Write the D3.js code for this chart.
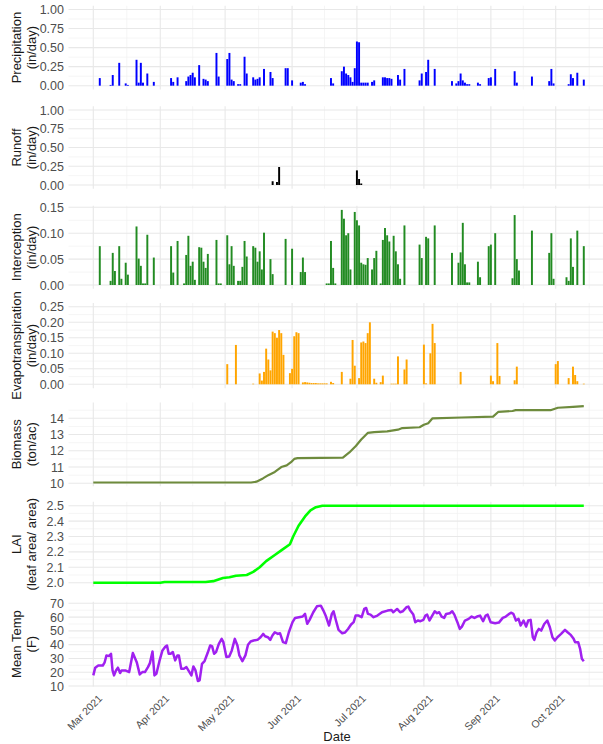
<!DOCTYPE html>
<html>
<head>
<meta charset="utf-8">
<script src="https://cdn.jsdelivr.net/npm/d3@7"></script>
<style>
  body { margin: 0; background: #fff; }
  text { font-family: "Liberation Sans", Arial, sans-serif; }
</style>
</head>
<body>
<div id="chart"></div>
<script>
// days counted from 2021-03-01
var precipDays = [3, 8, 9, 12, 15, 16, 20, 21, 22, 23, 25, 28, 36, 37, 39, 43, 44, 45, 46, 47, 49, 51, 52, 53, 57, 58, 62, 63, 64, 65, 67, 68, 70, 71, 74, 75, 76, 77, 79, 82, 83, 89, 90, 92, 96, 97, 98, 110, 111, 115, 116, 117, 118, 119, 120, 121, 122, 123, 124, 125, 126, 127, 129, 130, 134, 135, 136, 137, 138, 141, 142, 144, 151, 152, 154, 155, 158, 166, 168, 169, 170, 171, 172, 173, 174, 178, 179, 183, 184, 186, 195, 196, 203, 211, 212, 213, 220, 221, 222, 224, 227];
var precipVals = [0.10, 0.01, 0.14, 0.30, 0.03, 0.01, 0.34, 0.04, 0.30, 0.04, 0.16, 0.05, 0.10, 0.05, 0.11, 0.06, 0.12, 0.14, 0.17, 0.11, 0.27, 0.09, 0.08, 0.06, 0.43, 0.12, 0.35, 0.43, 0.08, 0.06, 0.02, 0.02, 0.38, 0.16, 0.11, 0.08, 0.09, 0.11, 0.22, 0.18, 0.10, 0.23, 0.23, 0.07, 0.04, 0.05, 0.02, 0.10, 0.03, 0.19, 0.25, 0.16, 0.14, 0.11, 0.05, 0.23, 0.58, 0.57, 0.04, 0.04, 0.04, 0.04, 0.05, 0.07, 0.11, 0.11, 0.10, 0.10, 0.09, 0.14, 0.08, 0.22, 0.07, 0.16, 0.18, 0.34, 0.22, 0.06, 0.03, 0.06, 0.16, 0.07, 0.04, 0.02, 0.02, 0.04, 0.02, 0.10, 0.11, 0.22, 0.19, 0.04, 0.12, 0.06, 0.22, 0.03, 0.02, 0.15, 0.10, 0.17, 0.08];

var runoffDays = [83, 85, 86, 122, 123, 124];
var runoffVals = [0.05, 0.04, 0.24, 0.195, 0.08, 0.02];

var interceptDays = [3, 8, 9, 10, 12, 13, 15, 16, 20, 21, 22, 23, 24, 25, 28, 36, 37, 39, 42, 43, 44, 45, 46, 47, 49, 50, 51, 52, 53, 57, 58, 59, 62, 63, 64, 65, 67, 68, 69, 70, 71, 74, 75, 76, 77, 78, 79, 82, 83, 89, 92, 96, 97, 98, 108, 109, 110, 111, 112, 115, 116, 117, 118, 119, 121, 122, 123, 124, 125, 126, 127, 129, 130, 131, 133, 134, 135, 136, 137, 139, 140, 141, 142, 144, 151, 152, 154, 155, 158, 166, 169, 170, 171, 172, 173, 174, 178, 179, 183, 184, 186, 194, 195, 196, 197, 203, 211, 212, 213, 219, 220, 221, 222, 224, 227];
var interceptVals = [0.075, 0.008, 0.062, 0.027, 0.075, 0.012, 0.043, 0.02, 0.113, 0.051, 0.037, 0.003, 0.003, 0.097, 0.053, 0.075, 0.024, 0.085, 0.003, 0.058, 0.095, 0.037, 0.045, 0.01, 0.073, 0.072, 0.045, 0.033, 0.06, 0.087, 0.003, 0.003, 0.096, 0.04, 0.075, 0.037, 0.008, 0.008, 0.035, 0.085, 0.055, 0.075, 0.072, 0.045, 0.065, 0.03, 0.101, 0.05, 0.021, 0.089, 0.07, 0.025, 0.053, 0.025, 0.003, 0.003, 0.085, 0.033, 0.003, 0.145, 0.128, 0.096, 0.1, 0.03, 0.141, 0.125, 0.115, 0.043, 0.04, 0.039, 0.052, 0.03, 0.052, 0.066, 0.003, 0.087, 0.11, 0.096, 0.084, 0.095, 0.065, 0.04, 0.012, 0.115, 0.078, 0.052, 0.093, 0.09, 0.115, 0.062, 0.043, 0.063, 0.12, 0.04, 0.005, 0.005, 0.045, 0.015, 0.075, 0.078, 0.1, 0.013, 0.135, 0.05, 0.028, 0.105, 0.062, 0.1, 0.012, 0.015, 0.008, 0.09, 0.035, 0.105, 0.075];

var etDays = [62, 66, 74, 77, 78, 79, 80, 81, 82, 83, 84, 85, 86, 87, 88, 91, 92, 93, 94, 95, 97, 98, 99, 100, 101, 102, 103, 104, 105, 106, 107, 108, 110, 111, 115, 119, 120, 121, 123, 124, 125, 126, 127, 128, 130, 131, 133, 134, 138, 139, 140, 141, 144, 145, 153, 154, 156, 157, 158, 170, 184, 185, 187, 188, 195, 196, 214, 215, 220, 222, 223, 224, 227];
var etVals = [0.065, 0.127, 0.002, 0.035, 0.012, 0.04, 0.115, 0.08, 0.045, 0.17, 0.165, 0.15, 0.175, 0.165, 0.095, 0.036, 0.05, 0.155, 0.168, 0.165, 0.006, 0.007, 0.006, 0.005, 0.004, 0.004, 0.004, 0.003, 0.003, 0.003, 0.003, 0.003, 0.008, 0.004, 0.04, 0.018, 0.143, 0.06, 0.02, 0.135, 0.138, 0.133, 0.165, 0.2, 0.018, 0.005, 0.007, 0.028, 0.002, 0.002, 0.002, 0.09, 0.048, 0.08, 0.128, 0.003, 0.1, 0.195, 0.133, 0.04, 0.028, 0.01, 0.133, 0.027, 0.013, 0.057, 0.065, 0.075, 0.02, 0.057, 0.03, 0.01, 0.002];

var biomassDays = [0, 73, 75.5, 78.5, 81, 84, 87, 89.5, 91.5, 93, 94.5, 115.5, 118.5, 121.5, 124, 127, 130, 136, 141, 143, 151, 153, 155, 157, 170.5, 185, 187.5, 194, 195.5, 211.6, 215, 222, 227];
var biomassVals = [10.05, 10.05, 10.1, 10.3, 10.5, 10.7, 11.0, 11.1, 11.3, 11.5, 11.55, 11.58, 11.9, 12.3, 12.7, 13.1, 13.15, 13.2, 13.3, 13.4, 13.45, 13.6, 13.7, 14.0, 14.05, 14.1, 14.4, 14.45, 14.5, 14.5, 14.65, 14.7, 14.75];

var laiDays = [0, 31, 33, 52, 55.5, 60, 63, 66, 71, 74, 77, 80, 84, 87, 91, 92.5, 95, 98, 100.5, 103, 106, 227];
var laiVals = [2.0, 2.0, 2.005, 2.005, 2.01, 2.03, 2.035, 2.045, 2.05, 2.07, 2.1, 2.14, 2.18, 2.21, 2.25, 2.3, 2.37, 2.43, 2.47, 2.49, 2.5, 2.5];

var tempDays = [0, 0.9, 2.3, 4.4, 5.2, 6.1, 7.3, 8.2, 8.9, 9.6, 10.5, 11.4, 12.4, 13.1, 14.8, 16.6, 18.3, 20.1, 21.5, 22.7, 23.9, 25.3, 26.2, 27.4, 28.3, 29.2, 30.6, 32, 33.4, 34.1, 34.9, 35.8, 36.8, 37.9, 38.9, 39.6, 40.7, 41.9, 43.1, 44.5, 45.4, 46.3, 47.3, 48.4, 49.2, 50.3, 51.5, 52.9, 54.1, 55, 55.9, 56.8, 58.1, 59.4, 60.2, 61.6, 62.9, 64.1, 65.5, 66.7, 67.6, 69, 70.4, 71.6, 72.8, 74.2, 76, 77.4, 78.6, 79.5, 80.8, 81.9, 82.9, 84, 85.4, 86.4, 87.8, 89.1, 90.5, 92.2, 93.4, 95.2, 96.9, 98, 99, 100.1, 101.8, 103.5, 105.3, 106.5, 107.7, 109.1, 110.4, 111.2, 112.3, 113.5, 115.2, 116.5, 117.9, 119.3, 120.5, 121.4, 122.8, 124.2, 125.4, 126.3, 127.1, 128.3, 129.7, 131.5, 133.6, 136.2, 138, 138.8, 139.7, 140.6, 142, 143.2, 144.9, 145.8, 146.7, 148.1, 149, 150.2, 151.4, 152.8, 153.7, 154.5, 155.6, 156.6, 158, 159.1, 160.1, 161.2, 162.4, 163.3, 165, 166.1, 167.1, 168.5, 169.6, 170.6, 172, 173.7, 175.1, 176.4, 177.6, 179, 180.4, 181.6, 182.5, 183.9, 186, 187.7, 189.5, 190.9, 192.1, 193.3, 194.4, 195.6, 196.8, 197.8, 199.1, 200.3, 201.3, 202.4, 203.4, 204.1, 205.2, 206.2, 207.3, 208.7, 210.1, 211.3, 212.5, 213.6, 214.8, 216.5, 218.3, 219.5, 220.8, 222.3, 223, 224.4, 225.3, 226.1, 227];
var tempVals = [17.7, 23.3, 24.9, 24.9, 26.9, 32.2, 31.7, 33.4, 21.3, 17.7, 21.3, 23.3, 19.4, 21.3, 21.3, 20.1, 33.9, 27.3, 18.4, 20.1, 20.1, 23.7, 26.6, 35.1, 17.7, 18.9, 28, 35.8, 38.7, 39.4, 33.4, 33.4, 34.6, 28.6, 32.2, 32.2, 22.5, 22.5, 23.7, 20.1, 17.7, 24.2, 21.3, 13.6, 14.1, 26.1, 28.1, 33.9, 39.4, 38.7, 33.4, 34.6, 40.6, 44.2, 41.8, 31, 31.4, 35.8, 44.2, 39.4, 32.2, 28, 32.2, 39.9, 42.3, 43, 43.5, 45.4, 47.8, 46.1, 45.4, 43.5, 46.6, 49, 47.8, 48.3, 41.8, 41.1, 49, 56.3, 59.4, 59.9, 60.4, 62.3, 55.1, 58, 63.5, 67.8, 68.3, 64.7, 60.4, 53.9, 62.3, 64.2, 57.5, 50.7, 48.3, 48.8, 51.4, 54.6, 56.3, 61.1, 61.1, 59.9, 65.9, 66.6, 62.3, 61.8, 59.9, 61.1, 63.5, 64.7, 65.2, 63.5, 64.7, 65.9, 63.5, 64.2, 67.1, 67.6, 64.7, 61.8, 56.3, 57.5, 57, 58, 61.1, 61.8, 57.5, 60.4, 64.2, 62.8, 63.5, 60.4, 59.4, 62.3, 62.8, 64.2, 61.8, 56.3, 51.4, 53.1, 57.5, 58.7, 60.4, 59.4, 60.4, 61.1, 57, 61.1, 61.8, 56.3, 55.5, 56, 59.4, 60.4, 61.8, 63.2, 62.3, 57.5, 58.7, 53.9, 57.5, 53.1, 57.5, 58, 45.4, 43.5, 49, 51.4, 50.2, 55, 57.5, 52.6, 45.4, 43, 45.4, 47.8, 50.7, 49, 47.3, 44.2, 41.8, 41.8, 37, 29.8, 28];

var monthTicks = ["2021-03-01", "2021-04-01", "2021-05-01", "2021-06-01", "2021-07-01", "2021-08-01", "2021-09-01", "2021-10-01"];

var start = new Date(Date.UTC(2021, 2, 1));
function toDate(d) { return new Date(start.getTime() + d * 864e5); }
function pairs(days, vals) { return days.map(function (d, i) { return { date: toDate(d), day: d, value: vals[i] }; }); }

var width = 603, height = 744,
    left = 68.5, right = 603;

var svg = d3.select("#chart").append("svg")
    .attr("width", width)
    .attr("height", height)
    .style("display", "block");

svg.append("rect").attr("width", width).attr("height", height).attr("fill", "#fff");

var x = d3.scaleUtc()
    .domain([new Date(monthTicks[0]), new Date(monthTicks[7])])
    .range([93.3, 555.7]);

var majorX = monthTicks.map(function (s) { return new Date(s); });
var minorX = [];
for (var i = 0; i < majorX.length; i++) {
    var a = majorX[i], b = i < majorX.length - 1 ? majorX[i + 1] : new Date("2021-11-01");
    minorX.push(new Date((a.getTime() + b.getTime()) / 2));
}

var panels = [
    { type: "bar", data: pairs(precipDays, precipVals), color: "#0000ff", title: ["Precipitation", "(in/day)"],
      ticks: [0, 0.25, 0.5, 0.75, 1], fmt: d3.format(".2f"), tpx: [85.7, 9.5], lim: [-0.05, 1.05] },
    { type: "bar", data: pairs(runoffDays, runoffVals), color: "#000000", title: ["Runoff", "(in/day)"],
      ticks: [0, 0.25, 0.5, 0.75, 1], fmt: d3.format(".2f"), tpx: [185, 110], lim: [-0.05, 1.05] },
    { type: "bar", data: pairs(interceptDays, interceptVals), color: "#228b22", title: ["Interception", "(in/day)"],
      ticks: [0, 0.05, 0.1, 0.15], fmt: d3.format(".2f"), tpx: [285, 207.3], lim: [-0.0073, 0.153] },
    { type: "bar", data: pairs(etDays, etVals), color: "#ffa500", title: ["Evapotranspiration", "(in/day)"],
      ticks: [0, 0.05, 0.1, 0.15, 0.2, 0.25], fmt: d3.format(".2f"), tpx: [384.3, 306.8], lim: [-0.0125, 0.2625] },
    { type: "line", data: pairs(biomassDays, biomassVals), color: "#6e8b3d", width: 2.2, title: ["Biomass", "(ton/ac)"],
      ticks: [10, 11, 12, 13, 14], fmt: d3.format("d"), tpx: [483.3, 418.3], lim: [9.82, 14.98] },
    { type: "line", data: pairs(laiDays, laiVals), color: "#00ff00", width: 2.6, title: ["LAI", "(leaf area/ area)"],
      ticks: [2.0, 2.1, 2.2, 2.3, 2.4, 2.5], fmt: d3.format(".1f"), tpx: [582.7, 505.7], lim: [1.975, 2.525] },
    { type: "line", data: pairs(tempDays, tempVals), color: "#a020f0", width: 2.5, title: ["Mean Temp", "(F)"],
      ticks: [10, 20, 30, 40, 50, 60, 70], fmt: d3.format("d"), tpx: [686, 603.3], lim: [9.7, 71.1] }
];

panels.forEach(function (p) {
    var t = p.ticks;
    var y = d3.scaleLinear().domain([t[0], t[t.length - 1]]).range(p.tpx);
    var top = y(p.lim[1]), bottom = y(p.lim[0]);
    var g = svg.append("g");

    // minor + major horizontal grid
    var step = t[1] - t[0];
    var minorY = [];
    for (var v = t[0] - step / 2; v <= p.lim[1]; v += step) {
        if (v >= p.lim[0]) minorY.push(v);
    }
    g.selectAll(".hmin").data(minorY).join("line")
        .attr("x1", left).attr("x2", right)
        .attr("y1", function (d) { return y(d); }).attr("y2", function (d) { return y(d); })
        .attr("stroke", "#f0f0f0").attr("stroke-width", 0.7);
    g.selectAll(".vmin").data(minorX.filter(function (d) { return x(d) > left && x(d) < right; })).join("line")
        .attr("x1", function (d) { return x(d); }).attr("x2", function (d) { return x(d); })
        .attr("y1", top).attr("y2", bottom)
        .attr("stroke", "#f0f0f0").attr("stroke-width", 0.7);
    g.selectAll(".hmaj").data(t).join("line")
        .attr("x1", left).attr("x2", right)
        .attr("y1", function (d) { return y(d); }).attr("y2", function (d) { return y(d); })
        .attr("stroke", "#e8e8e8").attr("stroke-width", 1.1);
    g.selectAll(".vmaj").data(majorX).join("line")
        .attr("x1", function (d) { return x(d); }).attr("x2", function (d) { return x(d); })
        .attr("y1", top).attr("y2", bottom)
        .attr("stroke", "#e8e8e8").attr("stroke-width", 1.1);

    // tick labels
    g.selectAll(".tl").data(t).join("text")
        .attr("x", 64).attr("y", function (d) { return y(d); })
        .attr("dy", "0.36em")
        .attr("text-anchor", "end")
        .attr("font-size", "12.5px")
        .attr("fill", "#4d4d4d")
        .text(p.fmt);

    // axis title
    var cy = (top + bottom) / 2;
    var tt = g.append("text")
        .attr("transform", "translate(20.5," + cy + ") rotate(-90)")
        .attr("text-anchor", "middle")
        .attr("font-size", "13px")
        .attr("fill", "#1a1a1a");
    tt.append("tspan").attr("x", 0).attr("y", 0).text(p.title[0]);
    tt.append("tspan").attr("x", 0).attr("y", 15).text(p.title[1]);

    if (p.type === "bar") {
        var bw = x(toDate(0.9)) - x(toDate(0));
        g.selectAll(".bar").data(p.data).join("rect")
            .attr("x", function (d) { return x(d.date) - bw / 2; })
            .attr("width", bw)
            .attr("y", function (d) { return y(d.value); })
            .attr("height", function (d) { return y(0) - y(d.value); })
            .attr("fill", p.color);
    } else {
        var line = d3.line()
            .x(function (d) { return x(d.date); })
            .y(function (d) { return y(d.value); });
        g.append("path").datum(p.data)
            .attr("d", line)
            .attr("fill", "none")
            .attr("stroke", p.color)
            .attr("stroke-width", p.width)
            .attr("stroke-linejoin", "round");
    }
});

// x tick labels
svg.selectAll(".xl").data(majorX).join("text")
    .attr("transform", function (d) { return "translate(" + (x(d) + 4.5) + ",694) rotate(-45)"; })
    .attr("text-anchor", "end")
    .attr("dy", "0.7em")
    .attr("font-size", "10.5px")
    .attr("fill", "#4d4d4d")
    .text(d3.utcFormat("%b %Y"));

svg.append("text")
    .attr("x", 337).attr("y", 741)
    .attr("text-anchor", "middle")
    .attr("font-size", "13px")
    .attr("fill", "#1a1a1a")
    .text("Date");
</script>
</body>
</html>
